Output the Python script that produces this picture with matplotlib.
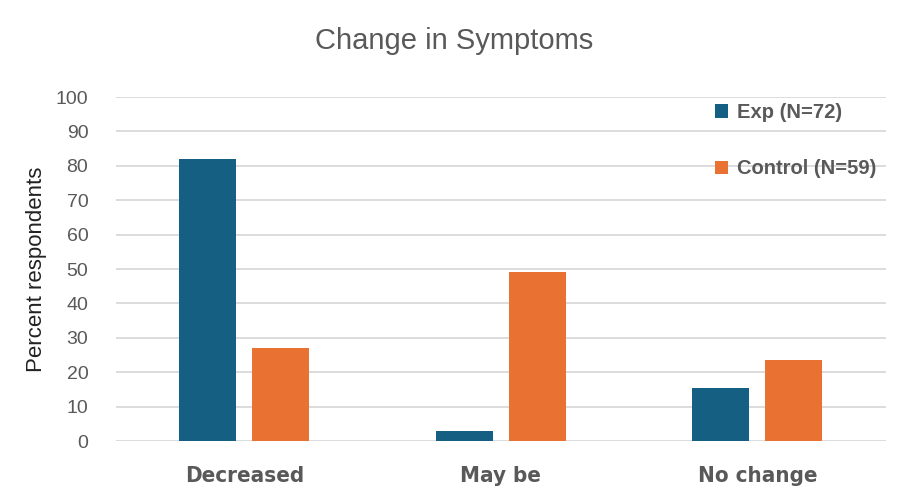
import numpy as np
import matplotlib.pyplot as plt

categories = ["Decreased", "May be", "No change"]
exp_vals = [81.9, 2.8, 15.3]
ctrl_vals = [27.1, 49.2, 23.7]
series_names = ["Exp (N=72)", "Control (N=59)"]

blue = "#156082"
orange = "#E97132"
gray = "#595959"

plt.rcParams['font.family'] = ['Liberation Sans', 'DejaVu Sans']

fig = plt.figure(figsize=(9, 4.95), dpi=100)
ax = fig.add_axes([0.129, 0.109, 0.855, 0.695])

x = np.arange(len(categories))
w = 0.222
off = 0.142
b1 = ax.bar(x - off, exp_vals, w, color=blue, label=series_names[0], zorder=3)
b2 = ax.bar(x + off, ctrl_vals, w, color=orange, label=series_names[1], zorder=3)

ax.set_xlim(-0.5, 2.5)
ax.set_ylim(0, 100)
ax.set_yticks(range(0, 101, 10))
ax.yaxis.grid(True, color="#d9d9d9", linewidth=1.3, zorder=0)
for s in ax.spines.values():
    s.set_visible(False)
ax.tick_params(axis="both", length=0)
ax.tick_params(axis="y", labelsize=14, labelcolor=gray, pad=20)
ax.set_xticks(x)
ax.set_xticklabels(categories, fontsize=16, fontweight="bold", color=gray,
                   family="DejaVu Sans", fontstretch="condensed")
ax.tick_params(axis="x", pad=18)

ax.set_ylabel("Percent respondents", fontsize=16, color="#222222", labelpad=6)
fig.text(0.505, 0.918, "Change in Symptoms", ha="center", va="center",
         fontsize=21, color=gray)

leg = ax.legend(loc="upper right", bbox_to_anchor=(1.012, 1.035), frameon=False,
                prop={"size": 14.5, "weight": "bold"}, labelspacing=1.85,
                handlelength=0.65, handleheight=0.65, handletextpad=0.45)
for t in leg.get_texts():
    t.set_color(gray)

fig.savefig("out.png", dpi=100)
